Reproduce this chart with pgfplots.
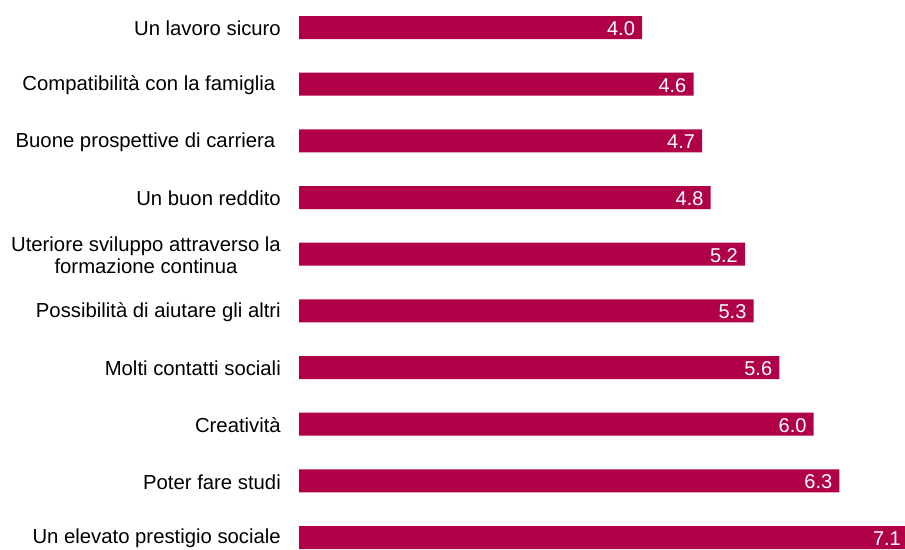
\documentclass[border=0pt]{standalone}
\usepackage{pgfplots}
\pgfplotsset{compat=1.18}
\usepackage{fontspec}
\setmainfont{Liberation Sans}
\definecolor{barc}{RGB}{176,0,72}
\begin{document}
\begin{tikzpicture}
\useasboundingbox (0,0) rectangle (905pt,549pt);
\begin{axis}[
  at={(299pt,11.5pt)}, anchor=south west,
  scale only axis, width=609pt, height=510pt,
  xbar, bar width=23pt,
  xmin=0, xmax=7.1, ymin=0, ymax=9, y dir=reverse,
  clip=false,
  axis line style={draw=none},
  major tick length=0pt,
  xtick=\empty,
  ytick={0,1,2,3,4,5,6,7,8,9},
  yticklabels={
    Un lavoro sicuro,
    Compatibilità con la famiglia\kern5.6pt,
    Buone prospettive di carriera\kern5.6pt,
    Un buon reddito,
    {Uteriore sviluppo attraverso la\\formazione continua},
    Possibilità di aiutare gli altri,
    Molti contatti sociali,
    Creatività,
    Poter fare studi,
    Un elevato prestigio sociale},
  yticklabel style={font=\fontsize{20.3}{22.5}\selectfont, align=center, inner sep=0pt, anchor=east, xshift=-18pt, yshift=-1pt},
  point meta=x,
  nodes near coords={\pgfmathprintnumber[fixed,fixed zerofill,precision=1,assume math mode=true]{\pgfplotspointmeta}},
  nodes near coords style={anchor=east, inner sep=0pt, xshift=-7pt, yshift=-1pt, text=white, font=\fontsize{20}{22.5}\selectfont},
]
\addplot[fill=barc, draw=none] coordinates {
  (4.0,0) (4.6,1) (4.7,2) (4.8,3) (5.2,4) (5.3,5) (5.6,6) (6.0,7) (6.3,8) (7.1,9)
};
\end{axis}
\end{tikzpicture}
\end{document}
